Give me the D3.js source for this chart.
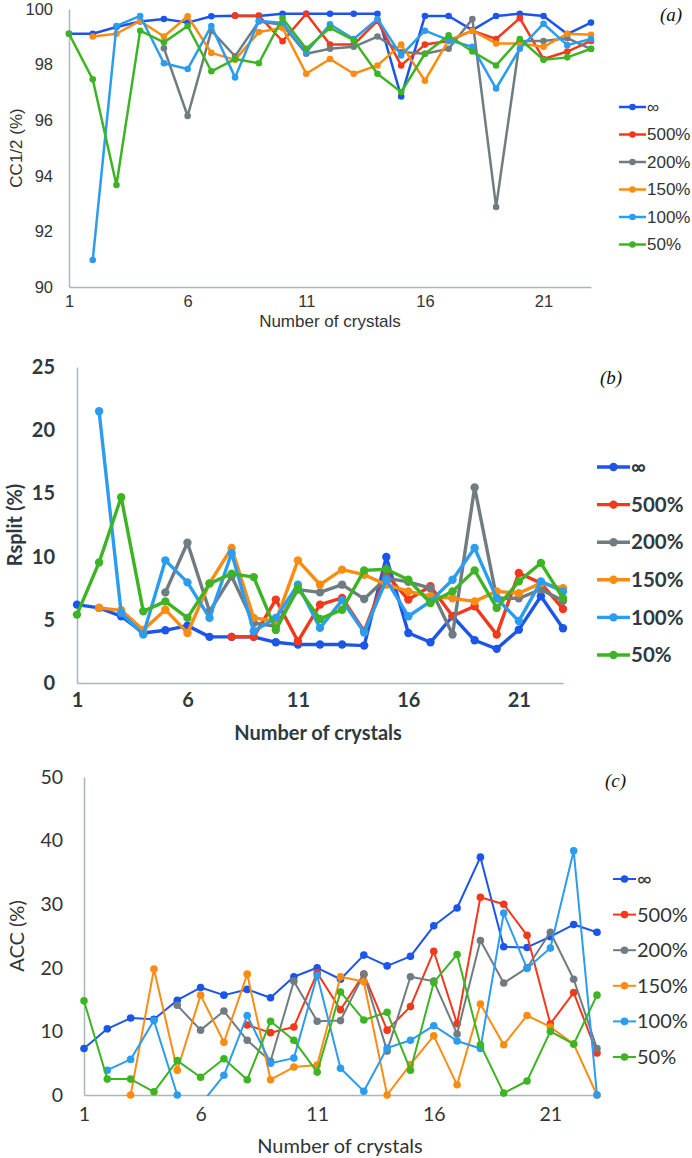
<!DOCTYPE html>
<html>
<head>
	<script src="https://cdnjs.cloudflare.com/ajax/libs/d3/7.8.5/d3.min.js"></script>
	<style>
		body { margin: 0; background: white; }
		svg { display: block; }
		.axis path { stroke: #a9b7bd; stroke-width: 1.5; fill: none; }
		.panelA text { font-family: "Liberation Sans", Arial, sans-serif; fill: #333; }
		.panelB text { font-family: Lato, "Open Sans", sans-serif; fill: #2e3a40; font-weight: bold; }
		.panelC text { font-family: Lato, "Open Sans", sans-serif; fill: #333; }
		.tag { font-family: "Liberation Serif", "DejaVu Serif", serif !important; font-style: italic; fill: #111 !important; font-weight: normal !important; }
	</style>
</head>
<body>
<svg id="main" width="692" height="1158"></svg>
<script>

var crystals = [1,2,3,4,5,6,7,8,9,10,11,12,13,14,15,16,17,18,19,20,21,22,23];
var xTicks = [1, 6, 11, 16, 21];
var seriesNames = ['\u221e', '500%', '200%', '150%', '100%', '50%'];
var colors = ['#1b55ea', '#f2391b', '#707c82', '#fb8c12', '#2c9cf0', '#3db424'];

// (a) CC1/2
var ccInf = [99.11,99.11,99.35,99.55,99.64,99.51,99.74,99.76,99.75,99.83,99.83,99.83,99.83,99.83,96.85,99.75,99.75,99.24,99.75,99.83,99.75,99.1,99.51];
var cc500 = [null,null,null,null,null,null,null,99.76,99.76,98.84,99.83,98.72,98.72,99.57,97.97,98.72,98.85,99.22,98.92,99.67,98.2,98.47,98.85];
var cc200 = [null,null,null,null,98.59,96.15,99.22,98.3,99.55,99.43,98.39,98.57,98.64,99.01,98.45,98.39,98.57,99.64,92.88,98.85,98.85,98.95,98.56];
var cc150 = [null,99.01,99.11,99.57,99.01,99.74,98.42,98.17,99.17,99.32,97.67,98.2,97.67,97.97,98.72,97.42,98.88,99.22,98.76,98.76,98.64,99.11,99.07];
var cc100 = [null,90.97,99.39,99.75,98.05,97.84,99.39,97.54,99.58,99.5,98.45,99.45,98.92,99.64,98.33,99.22,98.88,98.64,97.14,98.57,99.47,98.7,98.92];
var cc50  = [99.11,97.47,93.67,99.22,98.8,99.39,97.76,98.2,98.05,99.67,98.57,99.32,98.88,97.67,97.01,98.39,99.05,98.47,97.97,98.92,98.17,98.26,98.57];

// (b) Rsplit
var rsInf = [6.2,5.94,5.28,3.96,4.17,4.54,3.65,3.65,3.65,3.22,3.04,3.04,3.04,2.96,9.97,3.96,3.22,5.28,3.38,2.7,4.22,6.86,4.33];
var rs500 = [null,null,null,null,null,null,null,3.65,3.65,6.6,3.3,6.2,6.73,4.1,8.57,6.6,7.65,5.3,6.07,3.83,8.7,7.9,5.86];
var rs200 = [null,null,null,null,7.17,11.1,5.67,8.44,4.75,4.49,7.39,7.17,7.78,6.65,8.3,8.0,7.5,3.83,15.47,6.7,6.7,7.4,6.5];
var rs150 = [null,5.94,5.75,4.2,5.8,3.96,7.9,10.68,5.15,4.9,9.7,7.78,8.97,8.57,7.78,7.25,6.86,6.7,6.46,7.25,7.1,7.9,7.5];
var rs100 = [null,21.5,5.54,3.83,9.7,7.96,5.15,10.28,4.1,5.15,7.78,4.36,6.54,4.0,8.17,5.28,6.46,8.17,10.68,6.7,4.9,8.04,7.25];
var rs50  = [5.41,9.54,14.7,5.67,6.46,5.15,7.86,8.65,8.38,4.2,7.5,5.07,5.8,8.91,9.0,8.17,6.33,7.25,8.91,5.94,8.04,9.49,6.7];

// (c) ACC
var accInf = [7.3,10.4,12.1,11.9,14.9,16.9,15.7,16.6,15.3,18.6,20.0,18.2,22.0,20.3,21.8,26.6,29.4,37.4,23.3,23.2,24.9,26.8,25.6];
var acc500 = [null,null,null,null,null,null,null,11.0,9.8,10.7,19.2,13.4,19.0,10.2,13.9,22.6,11.2,31.1,30.0,25.1,11.2,16.1,6.6];
var acc200 = [null,null,null,null,14.1,10.2,13.2,8.6,5.3,17.9,11.6,11.7,19.0,6.9,18.6,17.9,9.6,24.3,17.6,20.0,25.6,18.2,7.3];
var acc150 = [null,-1,0,19.8,3.9,15.7,8.3,19.0,2.4,4.4,4.7,18.6,17.8,0,4.8,9.3,1.6,14.3,7.9,12.5,10.7,8.0,0];
var acc100 = [null,3.9,5.6,11.7,0,-1.5,3.1,12.5,5.0,5.8,18.8,4.2,0.6,7.4,8.6,10.9,8.5,7.3,28.6,19.9,23.1,38.4,0];
var acc50  = [14.8,2.5,2.5,0.5,5.4,2.8,5.7,2.4,11.6,8.6,3.6,16.2,11.8,13.0,3.9,17.7,22.1,7.9,0.3,2.2,10.0,8.0,15.7];

var svg = d3.select('#main');

function drawPanel(p)
{
	var g = svg.append('g').attr('class', p.cls);

	var x = d3.scaleLinear().domain([1, 23]).range([p.x0, p.x1]);
	var y = d3.scaleLinear().domain(p.yDomain).range([p.yBot, p.yTop]);

	// axes
	var xAxis = g.append('g').attr('class', 'axis')
		.attr('transform', 'translate(0,' + p.yBot + ')')
		.call(d3.axisBottom(x).tickValues(xTicks).tickSize(0).tickPadding(p.xPad).tickFormat(d3.format('d')));

	var yAxis = g.append('g').attr('class', 'axis')
		.attr('transform', 'translate(' + p.x0 + ',0)')
		.call(d3.axisLeft(y).tickValues(p.yTicks).tickSize(0).tickPadding(p.yPad));

	[xAxis, yAxis].forEach(function(a) {
		a.attr('font-family', null).attr('font-size', null);
		a.selectAll('text').attr('font-size', p.tickSize).attr('fill', null);
	});

	// titles
	g.append('text')
		.attr('transform', 'translate(' + p.yTitleX + ',' + ((p.yTop + p.yBot) / 2) + ') rotate(-90)')
		.attr('text-anchor', 'middle').attr('dy', '0.35em')
		.attr('font-size', p.titleSize)
		.text(p.yTitle);

	g.append('text')
		.attr('x', p.xTitleX).attr('y', p.xTitleY)
		.attr('text-anchor', 'middle').attr('dy', '0.35em')
		.attr('font-size', p.titleSize)
		.text('Number of crystals');

	g.append('text').attr('class', 'tag')
		.attr('x', p.tagX).attr('y', p.tagY).attr('dy', '0.35em')
		.attr('font-size', 19)
		.text('(' + p.tag + ')');

	// clip so values below the axis minimum are cut at the axis
	var clipId = 'clip-' + p.tag;
	g.append('clipPath').attr('id', clipId).append('rect')
		.attr('x', p.x0 - 10).attr('y', p.yTop - 10)
		.attr('width', p.x1 - p.x0 + 20).attr('height', p.yBot - p.yTop + 11);

	var line = d3.line()
		.defined(function(d) { return d != null; })
		.x(function(d, i) { return x(crystals[i]); })
		.y(function(d) { return y(d); });

	p.series.forEach(function(values, k)
	{
		var s = g.append('g');
		s.append('path')
			.attr('clip-path', 'url(#' + clipId + ')')
			.attr('d', line(values))
			.attr('fill', 'none')
			.attr('stroke', colors[k])
			.attr('stroke-width', p.lineWidth)
			.attr('stroke-linejoin', 'round');

		s.selectAll('circle')
			.data(values.map(function(v, i) { return { v: v, i: i }; })
				.filter(function(d) { return d.v != null && d.v >= p.yDomain[0]; }))
			.enter().append('circle')
			.attr('cx', function(d) { return x(crystals[d.i]); })
			.attr('cy', function(d) { return y(d.v); })
			.attr('r', p.radius)
			.attr('fill', colors[k]);
	});

	// legend
	var leg = g.append('g');
	seriesNames.forEach(function(name, k)
	{
		var ly = p.legY + k * p.legStep;
		leg.append('line')
			.attr('x1', p.legX).attr('x2', p.legX + p.legLen)
			.attr('y1', ly).attr('y2', ly)
			.attr('stroke', colors[k]).attr('stroke-width', p.lineWidth);
		leg.append('circle')
			.attr('cx', p.legX + p.legLen / 2).attr('cy', ly)
			.attr('r', p.radius).attr('fill', colors[k]);
		leg.append('text')
			.attr('x', p.legX + p.legLen + 1).attr('y', ly).attr('dy', '0.35em')
			.attr('font-size', p.legSize)
			.text(name);
	});
}

drawPanel({
	cls: 'panelA', tag: 'a',
	x0: 69, x1: 591, yTop: 9, yBot: 287,
	yDomain: [90, 100], yTicks: [90, 92, 94, 96, 98, 100],
	series: [ccInf, cc500, cc200, cc150, cc100, cc50],
	tickSize: 16.5, titleSize: 17, xPad: 8, yPad: 16,
	yTitle: 'CC1/2 (%)', yTitleX: 16,
	xTitleX: 330, xTitleY: 321,
	tagX: 660, tagY: 14,
	lineWidth: 2.5, radius: 3.3,
	legX: 619, legY: 107, legStep: 27.5, legLen: 27, legSize: 17
});

drawPanel({
	cls: 'panelB', tag: 'b',
	x0: 77, x1: 563, yTop: 367, yBot: 683,
	yDomain: [0, 25], yTicks: [0, 5, 10, 15, 20, 25],
	series: [rsInf, rs500, rs200, rs150, rs100, rs50],
	tickSize: 20, titleSize: 20, xPad: 10, yPad: 22,
	yTitle: 'Rsplit (%)', yTitleX: 15,
	xTitleX: 318, xTitleY: 733,
	tagX: 600, tagY: 377,
	lineWidth: 3.4, radius: 4.2,
	legX: 597, legY: 467, legStep: 37.6, legLen: 33, legSize: 20.5
});

drawPanel({
	cls: 'panelC', tag: 'c',
	x0: 84, x1: 597, yTop: 777, yBot: 1095,
	yDomain: [0, 50], yTicks: [0, 10, 20, 30, 40, 50],
	series: [accInf, acc500, acc200, acc150, acc100, acc50],
	tickSize: 19.5, titleSize: 20, xPad: 12, yPad: 21,
	yTitle: 'ACC (%)', yTitleX: 17,
	xTitleX: 340, xTitleY: 1146,
	tagX: 605, tagY: 780,
	lineWidth: 2, radius: 3.8,
	legX: 613, legY: 879, legStep: 35.6, legLen: 23, legSize: 20
});

</script>
</body>
</html>
